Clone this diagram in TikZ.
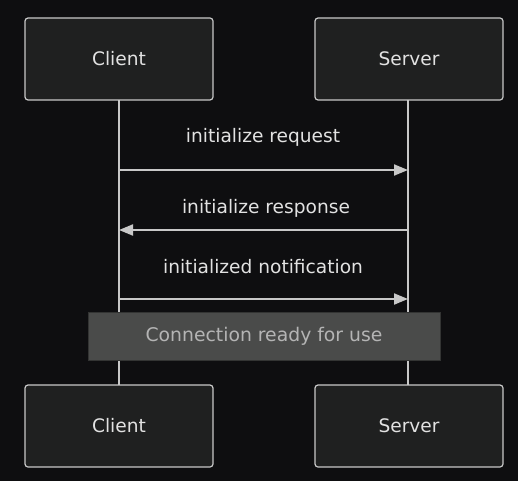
\documentclass[tikz,border=0pt]{standalone}
\usepackage{fontspec}
\setmainfont{DejaVu Sans}
\usetikzlibrary{arrows.meta}
\definecolor{bg}{HTML}{0E0E10}
\definecolor{boxfill}{HTML}{1F2020}
\definecolor{lineclr}{HTML}{C8C8C8}
\definecolor{txt}{HTML}{E2E2E2}
\definecolor{notefill}{HTML}{4A4B4A}
\definecolor{noteborder}{HTML}{333433}
\definecolor{notetxt}{HTML}{B4B4B4}
\tikzset{
  actor/.style={draw=lineclr, line width=1.2pt, fill=boxfill, rounded corners=3pt,
    minimum width=188pt, minimum height=82pt, inner sep=0pt, text=txt,
    font=\fontsize{18.6}{21}\selectfont},
  lifeline/.style={draw=lineclr, line width=2pt},
  msg/.style={draw=lineclr, line width=2pt, -{Triangle[length=14pt,width=11pt]}},
  msglabel/.style={text=txt, font=\fontsize{18.6}{21}\selectfont, inner sep=0pt},
  notebox/.style={draw=noteborder, line width=1pt, fill=notefill, minimum width=352pt,
    minimum height=48pt, inner sep=0pt, text=notetxt, font=\fontsize{18.8}{21}\selectfont}
}
\begin{document}
\begin{tikzpicture}[x=1pt,y=-1pt]
\fill[bg] (0,0) rectangle (518,481);
\useasboundingbox (0,0) rectangle (518,481);
% lifelines
\coordinate (c1) at (119,100);
\coordinate (c2) at (119,385);
\coordinate (s1) at (408,100);
\coordinate (s2) at (408,385);
\draw[lifeline] (c1) -- (c2);
\draw[lifeline] (s1) -- (s2);
% actors
\node[actor] (ct) at (119,59) {Client};
\node[actor] (st) at (409,59) {Server};
\node[actor] (cb) at (119,426) {Client};
\node[actor] (sb) at (409,426) {Server};
% messages
\coordinate (m1a) at (119,170);
\coordinate (m1b) at (408,170);
\coordinate (m2a) at (408,230);
\coordinate (m2b) at (119,230);
\coordinate (m3a) at (119,299);
\coordinate (m3b) at (408,299);
\draw[msg] (m1a) -- (m1b);
\draw[msg] (m2a) -- (m2b);
\draw[msg] (m3a) -- (m3b);
\node[msglabel] (l1) at (263,137) {initialize request};
\node[msglabel] (l2) at (266,208) {initialize response};
\node[msglabel] (l3) at (263,267) {initialized notification};
% note
\node[notebox] (note) at (264,336) {Connection ready for use};
\end{tikzpicture}
\end{document}
